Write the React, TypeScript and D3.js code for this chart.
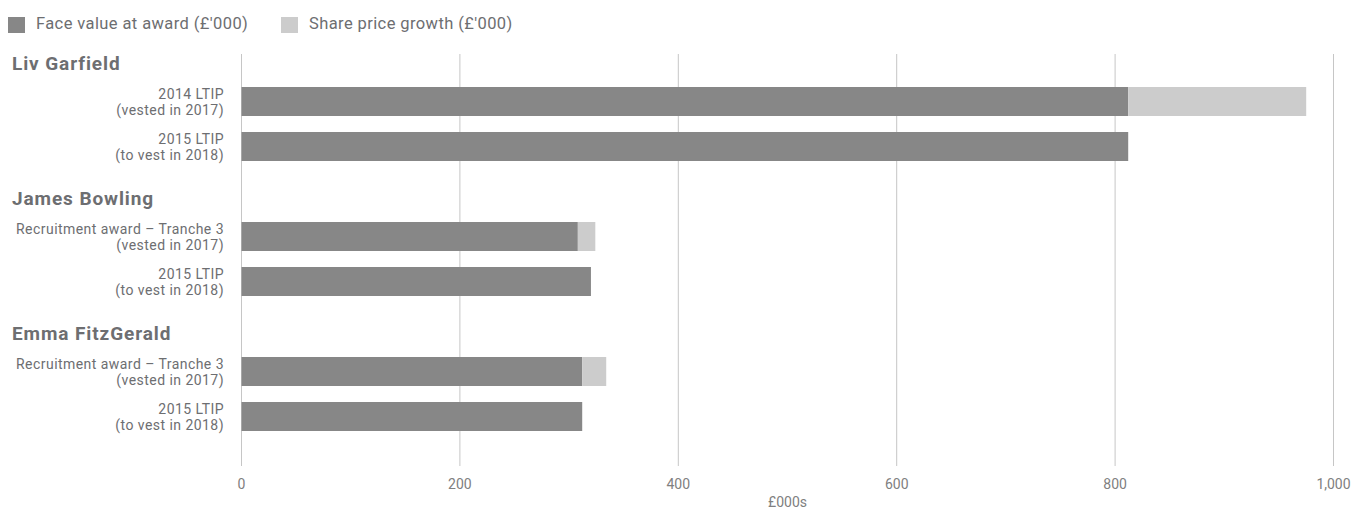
import React from "react";
import * as d3 from "d3";

const people = ["Liv Garfield", "James Bowling", "Emma FitzGerald"];
const awardPerson = [0, 0, 1, 1, 2, 2];
const awardLine1 = [
  "2014 LTIP",
  "2015 LTIP",
  "Recruitment award – Tranche 3",
  "2015 LTIP",
  "Recruitment award – Tranche 3",
  "2015 LTIP",
];
const awardLine2 = [
  "(vested in 2017)",
  "(to vest in 2018)",
  "(vested in 2017)",
  "(to vest in 2018)",
  "(vested in 2017)",
  "(to vest in 2018)",
];
const faceValue = [812, 812, 308, 320, 312, 312];
const shareGrowth = [163, 0, 16, 0, 22, 0];
const seriesNames = ["Face value at award (£'000)", "Share price growth (£'000)"];
const seriesKeys = ["face", "growth"];
const xTicks = [0, 200, 400, 600, 800, 1000];
const xAxisTitle = "£000s";

const W = 1352;
const H = 509;
const colors = ["#878787", "#cccccc"];
const FONT = "Roboto, 'Open Sans', sans-serif";

type Row = { key: string; kind: "header" | "bar"; idx: number };

export default function App() {
  const rows: Row[] = [];
  people.forEach((p, pi) => {
    rows.push({ key: "h" + pi, kind: "header", idx: pi });
    awardPerson.forEach((ap, ai) => {
      if (ap === pi) rows.push({ key: "a" + ai, kind: "bar", idx: ai });
    });
  });

  const x = d3.scaleLinear().domain([0, 1000]).range([241.5, 1333.5]);
  const y = d3
    .scaleBand<string>()
    .domain(rows.map((r) => r.key))
    .range([42, 431])
    .paddingInner(16 / 45)
    .paddingOuter(0);

  const table = faceValue.map((f, i) => ({ key: "a" + i, face: f, growth: shareGrowth[i] }));
  const stacked = d3.stack<any>().keys(seriesKeys)(table);

  const gridTop = 54;
  const gridBottom = 466;

  return (
    <div style={{ position: "absolute", left: 0, top: 0 }}>
      <svg width={W} height={H} style={{ display: "block", fontFamily: FONT }}>
        <rect width={W} height={H} fill="#ffffff" />
        {/* legend */}
        <g>
          <rect x={8} y={17} width={17} height={16} fill={colors[0]} />
          <text x={36} y={29} fontSize={16.5} letterSpacing={0.4} fill="#6d6e71">
            {seriesNames[0]}
          </text>
          <rect x={281} y={17} width={17} height={16} fill={colors[1]} />
          <text x={309} y={29} fontSize={16.5} letterSpacing={0.4} fill="#6d6e71">
            {seriesNames[1]}
          </text>
        </g>
        {/* gridlines */}
        {xTicks.map((t) => (
          <line
            key={"g" + t}
            x1={x(t)}
            x2={x(t)}
            y1={gridTop}
            y2={gridBottom}
            stroke="#c6c6c6"
            strokeWidth={1}
          />
        ))}
        {/* bars */}
        {stacked.map((s, si) => (
          <g key={s.key} fill={colors[si]}>
            {s.map((d: any, i: number) =>
              d[1] - d[0] > 0 ? (
                <rect
                  key={i}
                  x={x(d[0])}
                  y={y(d.data.key)!}
                  width={x(d[1]) - x(d[0])}
                  height={y.bandwidth()}
                />
              ) : null
            )}
          </g>
        ))}
        {/* row labels */}
        {rows.map((r) => {
          const yc = (y(r.key) as number) + y.bandwidth() / 2;
          if (r.kind === "header") {
            return (
              <text
                key={r.key}
                x={12}
                y={yc + 13}
                fontSize={19}
                fontWeight={700}
                letterSpacing={0.9}
                fill="#6d6e71"
              >
                {people[r.idx]}
              </text>
            );
          }
          return (
            <g key={r.key} fontSize={14} letterSpacing={0.45} fill="#6d6e71" textAnchor="end">
              <text x={224} y={yc - 2.5}>
                {awardLine1[r.idx]}
              </text>
              <text x={224} y={yc + 13.5}>
                {awardLine2[r.idx]}
              </text>
            </g>
          );
        })}
        {/* x tick labels */}
        {xTicks.map((t) => (
          <text
            key={"t" + t}
            x={x(t)}
            y={489}
            textAnchor="middle"
            fontSize={14}
            fill="#808080"
          >
            {d3.format(",")(t)}
          </text>
        ))}
        <text x={(x(0) + x(1000)) / 2} y={507} textAnchor="middle" fontSize={14} fill="#808080">
          {xAxisTitle}
        </text>
      </svg>
    </div>
  );
}
